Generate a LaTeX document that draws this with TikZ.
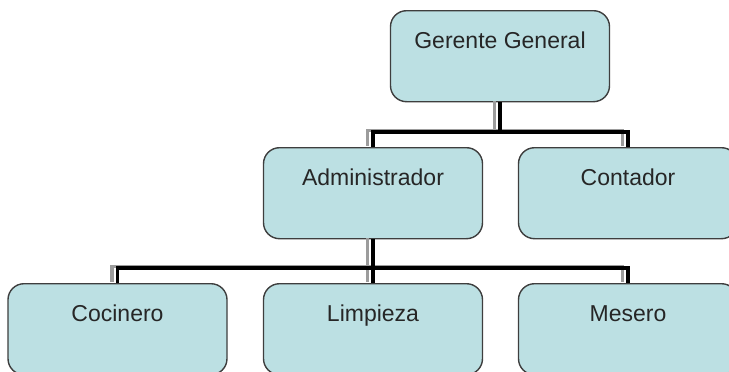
\documentclass[tikz,border=0pt]{standalone}
\usepackage{xcolor}
\usepackage{fontspec}
\setmainfont{Liberation Sans}
\usepackage{tikz}
\usetikzlibrary{arrows, shapes}

\definecolor{cajafondo}{HTML}{BCE0E3}
\definecolor{cajaborde}{HTML}{3E3E3E}
\definecolor{sombra}{HTML}{9C9C9C}

\begin{document}
\begin{tikzpicture}[x=1pt, y=-1pt]
		\tikzstyle{every node} = [font = \fontsize{23}{27}\selectfont]
		\tikzstyle{cargo} = [draw = cajaborde, fill = cajafondo, line width = 1.4pt,
			rounded corners = 16pt, anchor = north, minimum width = 219pt,
			inner xsep = 0pt, inner ysep = 0pt, text height = 38pt, text depth = 53pt,
			text = black!85]
		\tikzstyle{linea} = [draw, line width = 3.4pt, line cap = rect]
		\useasboundingbox (0,0) rectangle (729,372);
				% cajas
				\node[cargo] (gerente) at (500,10) {Gerente General};
				\node[cargo] (admin) at (373,147) {Administrador};
				\node[cargo] (contador) at (628,147) {Contador};
				\node[cargo] (cocinero) at (117.5,283) {Cocinero};
				\node[cargo] (limpieza) at (373,283) {Limpieza};
				\node[cargo] (mesero) at (628,283) {Mesero};
				\coordinate (bus1) at (500,132);
				\coordinate (bus2) at (373,268);
				% sombra de las lineas
				\begin{scope}[transform canvas = {xshift = -5.5pt, yshift = 1.5pt}]
					\path[linea, draw = sombra, line cap = butt] (gerente.south)--
						(bus1) -| (admin.north);
					\path[linea, draw = sombra, line cap = butt] (bus1) -| (contador.north);
					\path[linea, draw = sombra, line cap = butt] (admin.south)--
						(bus2) -| (cocinero.north);
					\path[linea, draw = sombra, line cap = butt] (bus2)--
						(limpieza.north);
					\path[linea, draw = sombra, line cap = butt] (bus2) -| (mesero.north);
				\end{scope}
				% lineas
				\path[linea, line cap = butt] (gerente.south)--
					(bus1) -| (admin.north);
				\path[linea, line cap = butt] (bus1) -| (contador.north);
				\path[linea, line cap = butt] (admin.south)--
					(bus2) -| (cocinero.north);
				\path[linea, line cap = butt] (bus2)--
					(limpieza.north);
				\path[linea, line cap = butt] (bus2) -| (mesero.north);
	\end{tikzpicture}
\end{document}
